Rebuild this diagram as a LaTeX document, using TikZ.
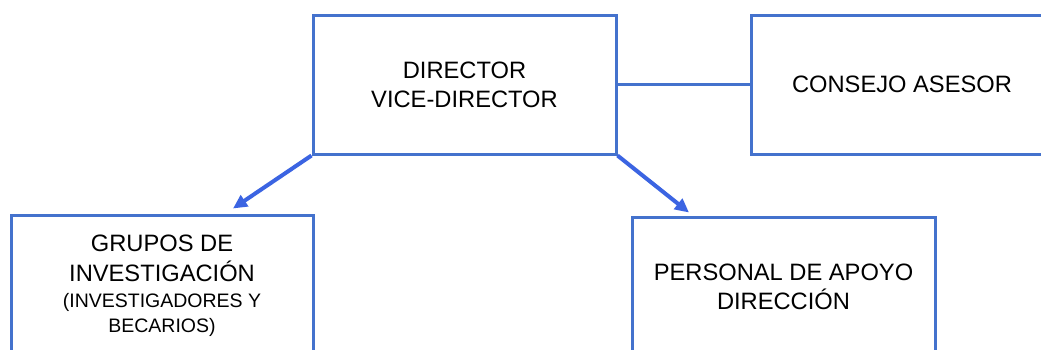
\documentclass[tikz,border=0pt]{standalone}
\usepackage{fontspec}
\setmainfont{Liberation Sans}
\usetikzlibrary{arrows.meta}
\definecolor{boxblue}{RGB}{68,114,205}
\definecolor{arrblue}{RGB}{59,100,226}
\newcommand\orgbig[1]{\fontsize{23.7}{#1}\selectfont\lineskiplimit=-100pt\relax}
\newcommand\orgsmall{\fontsize{19.5}{20}\selectfont}
\begin{document}
\begin{tikzpicture}[x=1pt,y=-1pt,
  orgbox/.style={draw=boxblue, line width=3pt, inner sep=0pt, align=center},
  orgtext/.style={inner sep=0pt, align=center, anchor=north},
  link/.style={draw=boxblue, line width=2.6pt},
  arrowline/.style={draw=arrblue, line width=4pt, -{Triangle[length=14pt,width=13pt]}}]
\clip (0,0) rectangle (1041,349);
\fill[white] (0,0) rectangle (1041,349);
\node[orgbox, minimum width=303pt, minimum height=139pt, font=\orgbig{29}] (dir) at (464.5,84.5) {DIRECTOR\\VICE-DIRECTOR};
\node[orgbox, minimum width=302pt, minimum height=139pt, font=\orgbig{29}] (con) at (902,84.5) {CONSEJO ASESOR};
\node[orgbox, minimum width=302pt, minimum height=141pt] (grp) at (162,285.5) {};
\node[orgbox, minimum width=303pt, minimum height=139pt] (per) at (783.5,286.5) {};
\node[orgtext, font=\orgbig{19.3}] (grpt) at (162,235) {GRUPOS DE\\[10.4pt]INVESTIGACIÓN\\[7pt]{\orgsmall (INVESTIGADORES Y}\\[5pt]{\orgsmall BECARIOS)}};
\node[orgtext, font=\orgbig{28.3}] (pert) at (783.5,264) {PERSONAL DE APOYO\\DIRECCIÓN};
\draw[link] (dir.east) -- (con.west);
\draw[arrowline] (dir.south west) -- ([shift={(71,-5)}]grp.north);
\draw[arrowline] (dir.south east) -- ([shift={(-94.5,-3)}]per.north);
\end{tikzpicture}
\end{document}
